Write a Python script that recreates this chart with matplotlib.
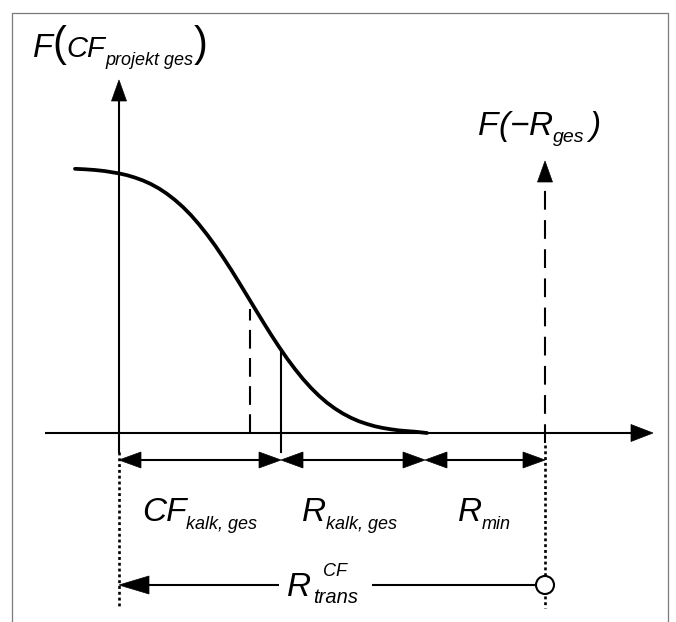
import matplotlib
matplotlib.use("Agg")
import matplotlib.pyplot as plt
from matplotlib.patches import Polygon, Circle

# ---- data (x = px right of y-axis, y = px above x-axis) ----
curve_x = [-44, -34, -24, -14, 0, 8, 16, 24, 32, 40, 48, 56, 64, 72, 80, 88, 96,
           104, 112, 120, 128, 136, 144, 152, 160, 168, 176, 184, 192, 200, 208,
           216, 224, 232, 240, 248, 256, 264, 272, 280, 288, 296, 308]
curve_y = [264.2, 263.7, 263.0, 261.9, 259.6, 257.8, 255.4, 252.5, 248.9, 244.5,
           239.2, 233.0, 225.9, 217.8, 208.6, 198.5, 187.6, 175.8, 163.5, 150.6,
           137.5, 124.3, 111.2, 98.4, 86.2, 74.6, 63.9, 54.0, 45.1, 37.2, 30.3,
           24.4, 19.4, 15.2, 11.7, 9.0, 6.7, 5.0, 3.7, 2.6, 1.9, 1.3, 0]

x_mean, y_mean = 131, 132   # dashed line under the curve
x_cf, y_cf = 162, 83        # CF_kalk,ges boundary
x_rk = 306                  # end of R_kalk,ges
x_rmin = 426                # R_min / F(-R_ges) position
dim_labels = ["CF", "R", "R"]
dim_subs = ["kalk, ges", "kalk, ges", "min"]
dim_label_x = [23, 183, 339]

FONT = "Liberation Sans"
W, H = 676, 622
fig = plt.figure(figsize=(W / 100, H / 100), dpi=100)
ax = fig.add_axes([0, 0, 1, 1])
ax.set_xlim(-119, W - 119)
ax.set_ylim(433 - H, 433)
ax.axis("off")

LW = 1.5
def head(tip, direction, L, Wd):
    tx, ty = tip
    dx, dy = direction
    bx, by = tx - dx * L, ty - dy * L
    px, py = -dy * Wd / 2, dx * Wd / 2
    ax.add_patch(Polygon([(tx, ty), (bx + px, by + py), (bx - px, by - py)],
                         closed=True, fc="black", ec="black", lw=0.5, zorder=5))

def arrow_h(x0, x1, y, L=22, Wd=16, start=True, end=True, lw=LW):
    a = x0 + (L if start else 0)
    b = x1 - (L if end else 0)
    ax.plot([a, b], [y, y], color="black", lw=lw, solid_capstyle="butt")
    if start:
        head((x0, y), (-1, 0), L, Wd)
    if end:
        head((x1, y), (1, 0), L, Wd)

# border (grey frame, open at bottom)
ax.plot([-107, -107, 549, 549], [433 - H - 5, 420, 420, 433 - H - 5],
        color="#7a7a7a", lw=0.9, clip_on=False)

# x-axis
arrow_h(-74, 534, 0, L=22, Wd=17, start=False)
# y-axis
ax.plot([0, 0], [-19, 353 - 21], color="black", lw=LW)
head((0, 353), (0, 1), 21, 15)

# F(-R_ges) dashed axis
ax.plot([x_rmin, x_rmin], [-10, 272 - 21], color="black", lw=LW,
        linestyle=(0, (9, 5)))
head((x_rmin, 272), (0, 1), 21, 15)

# dotted verticals
ax.plot([0, 0], [-19, -175], color="black", lw=1.9, linestyle=(0, (1.1, 1.1)))
ax.plot([x_rmin, x_rmin], [-12, -175], color="black", lw=1.9,
        linestyle=(0, (1.1, 1.1)))

# curve
ax.plot(curve_x, curve_y, color="black", lw=2.7, solid_capstyle="round",
        solid_joinstyle="round", zorder=4)

# dashed line at the mean, solid at CF
ax.plot([x_mean, x_mean], [0, y_mean - 8], color="black",
        lw=LW, linestyle=(0, (9, 4.5)))
ax.plot([x_cf, x_cf], [-19, y_cf], color="black", lw=LW)

# dimension arrows
ydim = -27
arrow_h(0, x_cf, ydim)
arrow_h(x_cf, x_rk, ydim)
arrow_h(x_rk, x_rmin, ydim)

# R_trans arrow
ytr = -152
arrow_h(0, x_rmin, ytr, L=30, Wd=18, start=True, end=False, lw=LW)
ax.add_patch(Circle((x_rmin, ytr), 9, fc="white", ec="black", lw=1.5, zorder=6))

fig.canvas.draw()
renderer = fig.canvas.get_renderer()

def rich(x, y, parts):
    cx = x
    for s, size, dy, style in parts:
        t = ax.text(cx, y + dy, s, fontsize=size, fontstyle=style, family=FONT,
                    ha="left", va="baseline", zorder=7)
        bb = t.get_window_extent(renderer)
        cx += bb.width
    return cx

# F(CF_projekt ges)
rich(-86, 376, [("F", 23.5, 0, "italic"), ("(", 30, 1, "normal"),
                ("CF", 21, 0, "italic"), ("projekt ges", 13, -8, "italic"),
                (")", 30, 1, "normal")])

# F(-R_ges)
rich(359, 298, [("F", 24, 0, "italic"), ("(", 24, 0, "italic"),
                ("\u2212", 24, 0, "italic"), ("R", 24, 0, "italic"),
                ("ges", 14, -7, "italic"), (" ", 13, 0, "normal"),
                (")", 24, 0, "italic")])

# dimension labels
ylab = -88
for xl, main, sub in zip(dim_label_x, dim_labels, dim_subs):
    rich(xl, ylab, [(main, 24, 0, "italic"), (sub, 13, -8, "italic")])

# R_trans^CF with white background gap
rx, ry = 168, -163
t = ax.text(rx, ry, "R", fontsize=24, fontstyle="italic", family=FONT,
            ha="left", va="baseline", zorder=7)
bbR = t.get_window_extent(renderer)
t1 = ax.text(rx + bbR.width + 2, ry - 7, "trans", fontsize=14.5, fontstyle="italic",
             family=FONT, ha="left", va="baseline", zorder=7)
t2 = ax.text(rx + bbR.width + 12, ry + 20, "CF", fontsize=13, fontstyle="italic",
             family=FONT, ha="left", va="baseline", zorder=7)
b1 = t1.get_window_extent(renderer)
xend = rx + bbR.width + 2 + b1.width
ax.add_patch(Polygon([(rx - 8, ytr - 4), (xend + 14, ytr - 4), (xend + 14, ytr + 4),
                      (rx - 8, ytr + 4)], closed=True, fc="white", ec="none",
                     zorder=6))

fig.savefig("out.png", dpi=100)
